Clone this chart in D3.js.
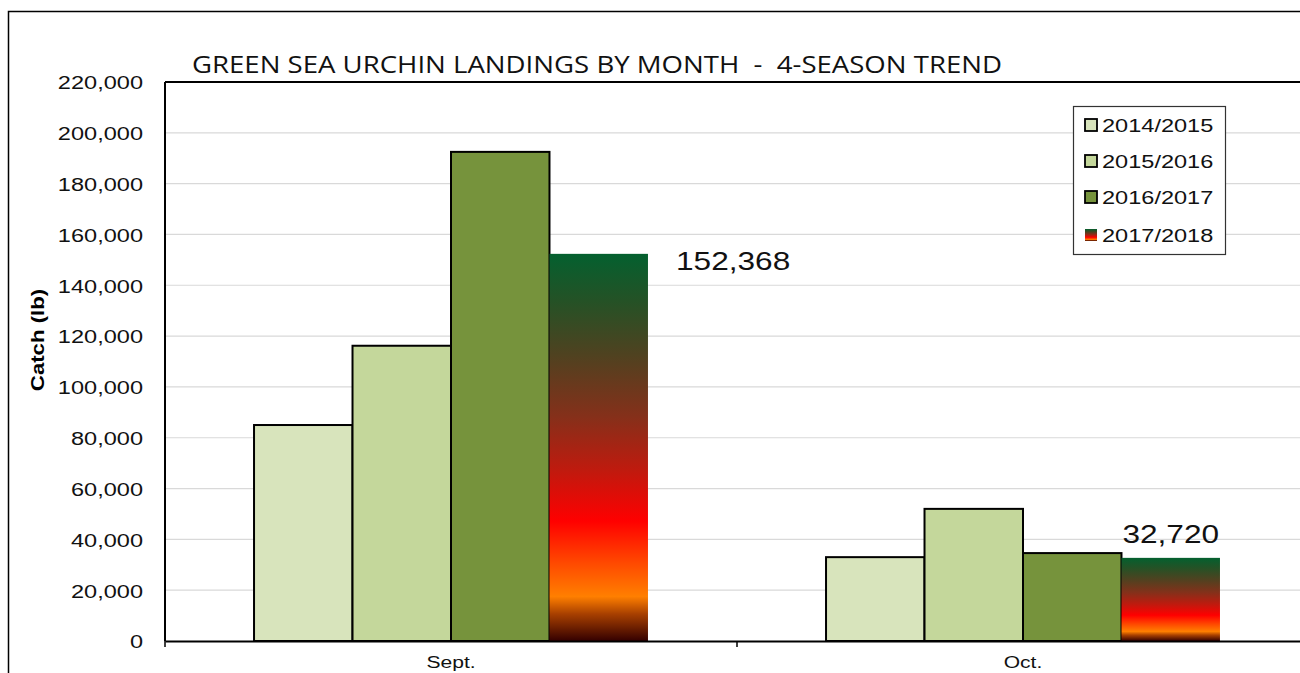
<!DOCTYPE html>
<html>
<head>
<meta charset="utf-8">
<script src="https://cdn.jsdelivr.net/npm/d3@7"></script>
<style>
  html, body { margin: 0; padding: 0; background: #fff; }
  svg { display: block; }
  text { white-space: pre; }
</style>
</head>
<body>
<svg id="chart" width="1300" height="673"></svg>
<script>
// ---- data ----
const months = ["Sept.", "Oct."];
const seasons = ["2014/2015", "2015/2016", "2016/2017", "2017/2018"];
const values2014 = [85000, 33000];
const values2015 = [116200, 52000];
const values2016 = [192500, 34600];
const values2017 = [152368, 32720];
const yTicks = [0, 20000, 40000, 60000, 80000, 100000, 120000, 140000, 160000, 180000, 200000, 220000];
const titleText = "GREEN SEA URCHIN LANDINGS BY MONTH  -  4-SEASON TREND";
const yTitle = "Catch (lb)";

const seriesValues = [values2014, values2015, values2016, values2017];
const colors = ["#d8e4bc", "#c4d79b", "#76933c", "url(#grad)"];

const svg = d3.select("#chart");
const SX = 1.24; // horizontal stretch of the reference's text
const font = "'Liberation Sans', Arial, sans-serif";

const L = 165, T = 82, B = 641, R = 1309;

// gradient
const defs = svg.append("defs");
const g = defs.append("linearGradient").attr("id", "grad")
  .attr("x1", 0).attr("y1", 0).attr("x2", 0).attr("y2", 1);
[[0, "#04602f"], [0.12, "#245226"], [0.26, "#4f4220"], [0.42, "#85301a"],
 [0.56, "#c01a0e"], [0.69, "#ff0000"], [0.8, "#ff4a00"], [0.885, "#ff7f00"],
 [0.93, "#a84000"], [1, "#340000"]].forEach(([o, c]) =>
  g.append("stop").attr("offset", o).attr("stop-color", c));

// outer frame
svg.append("rect").attr("x", 8.5).attr("y", 11.5).attr("width", 1400).attr("height", 800)
  .attr("fill", "#fff").attr("stroke", "#000").attr("stroke-width", 1.5);

// scales
const y = d3.scaleLinear().domain([0, 220000]).range([B, T]);
const x0 = d3.scaleBand().domain(months).range([L, R]).padding(0);
const x1 = d3.scaleBand().domain(seasons).range([0, x0.bandwidth()]).paddingInner(0).paddingOuter(0.904);

// gridlines
svg.append("g").selectAll("line").data(yTicks.filter(t => t > 0 && t < 220000)).join("line")
  .attr("x1", L).attr("x2", R).attr("y1", d => y(d)).attr("y2", d => y(d))
  .attr("stroke", "#d9d9d9").attr("stroke-width", 1.2);

// y axis labels
const yAxis = svg.append("g").attr("transform", `translate(${L},0)`)
  .call(d3.axisLeft(y).tickValues(yTicks).tickSize(0).tickPadding(22 / SX)
    .tickFormat(d3.format(",")));
yAxis.select(".domain").remove();
yAxis.selectAll("text")
  .attr("font-family", font).attr("font-size", 19).attr("fill", "#111")
  .attr("dy", "0.36em")
  .attr("transform", `scale(${SX},1)`);

// bars
const groups = svg.append("g").selectAll("g").data(months).join("g")
  .attr("transform", d => `translate(${x0(d)},0)`);
groups.selectAll("rect").data((d, i) => seasons.map((s, k) => ({ s, k, v: seriesValues[k][i] })))
  .join("rect")
  .attr("x", d => x1(d.s)).attr("width", x1.bandwidth())
  .attr("y", d => y(d.v)).attr("height", d => B - y(d.v))
  .attr("fill", d => colors[d.k])
  .attr("stroke", d => d.k < 3 ? "#000" : "none")
  .attr("stroke-width", 2);

// plot frame: top border, left axis, bottom axis
svg.append("line").attr("x1", L).attr("x2", R + 10).attr("y1", T).attr("y2", T)
  .attr("stroke", "#000").attr("stroke-width", 2);
svg.append("line").attr("x1", L).attr("x2", L).attr("y1", T).attr("y2", B)
  .attr("stroke", "#000").attr("stroke-width", 2);
const xAxis = svg.append("g").attr("transform", `translate(0,${B})`)
  .call(d3.axisBottom(x0).tickSize(0).tickPadding(0));
xAxis.select(".domain").attr("stroke", "#000").attr("stroke-width", 2.2);
xAxis.selectAll("text").remove();
// category separators ticks
svg.append("g").selectAll("line").data([L, x0("Oct."), R]).join("line")
  .attr("x1", d => d).attr("x2", d => d).attr("y1", B).attr("y2", B + 6)
  .attr("stroke", "#000").attr("stroke-width", 1.5);
// category labels
svg.append("g").selectAll("text").data(months).join("text")
  .attr("transform", d => `translate(${x0(d) + x0.bandwidth() / 2},668) scale(${SX},1)`)
  .attr("text-anchor", "middle").attr("font-family", font).attr("font-size", 17)
  .attr("fill", "#111").text(d => d);

// y title
svg.append("text")
  .attr("transform", `translate(44,340) rotate(-90) scale(${1.2},1)`)
  .attr("text-anchor", "middle").attr("font-family", font).attr("font-weight", "bold")
  .attr("font-size", 18.5).attr("fill", "#000").text(yTitle);

// title
svg.append("text").attr("x", 192).attr("y", 73)
  .attr("font-family", "'Open Sans', sans-serif").attr("font-size", 23)
  .attr("textLength", 810).attr("lengthAdjust", "spacingAndGlyphs")
  .attr("xml:space", "preserve")
  .attr("fill", "#111").text(titleText);

// data labels for 2017/2018
const lastS = seasons[3];
svg.append("text")
  .attr("transform", `translate(${x0("Sept.") + x1(lastS) + x1.bandwidth() + 28},${y(values2017[0]) + 16}) scale(${SX},1)`)
  .attr("font-family", font).attr("font-size", 25.5).attr("fill", "#111")
  .text(d3.format(",")(values2017[0]));
svg.append("text")
  .attr("transform", `translate(${x0("Oct.") + x1(lastS) + x1.bandwidth() / 2},${y(values2017[1]) - 15}) scale(${SX},1)`)
  .attr("text-anchor", "middle")
  .attr("font-family", font).attr("font-size", 25.5).attr("fill", "#111")
  .text(d3.format(",")(values2017[1]));

// legend
const leg = svg.append("g");
leg.append("rect").attr("x", 1073.5).attr("y", 106.5).attr("width", 152).attr("height", 148)
  .attr("fill", "#fff").attr("stroke", "#333").attr("stroke-width", 1.2);
const rowY = [125, 161, 197, 235];
seasons.forEach((s, k) => {
  leg.append("rect").attr("x", 1085).attr("y", rowY[k] - 6).attr("width", 12).attr("height", 12)
    .attr("fill", colors[k]).attr("stroke", k < 3 ? "#000" : "none").attr("stroke-width", 1.8);
  leg.append("text")
    .attr("transform", `translate(1102,${rowY[k] + 7}) scale(${1.24},1)`)
    .attr("font-family", font).attr("font-size", 19).attr("fill", "#111").text(s);
});
</script>
</body>
</html>
